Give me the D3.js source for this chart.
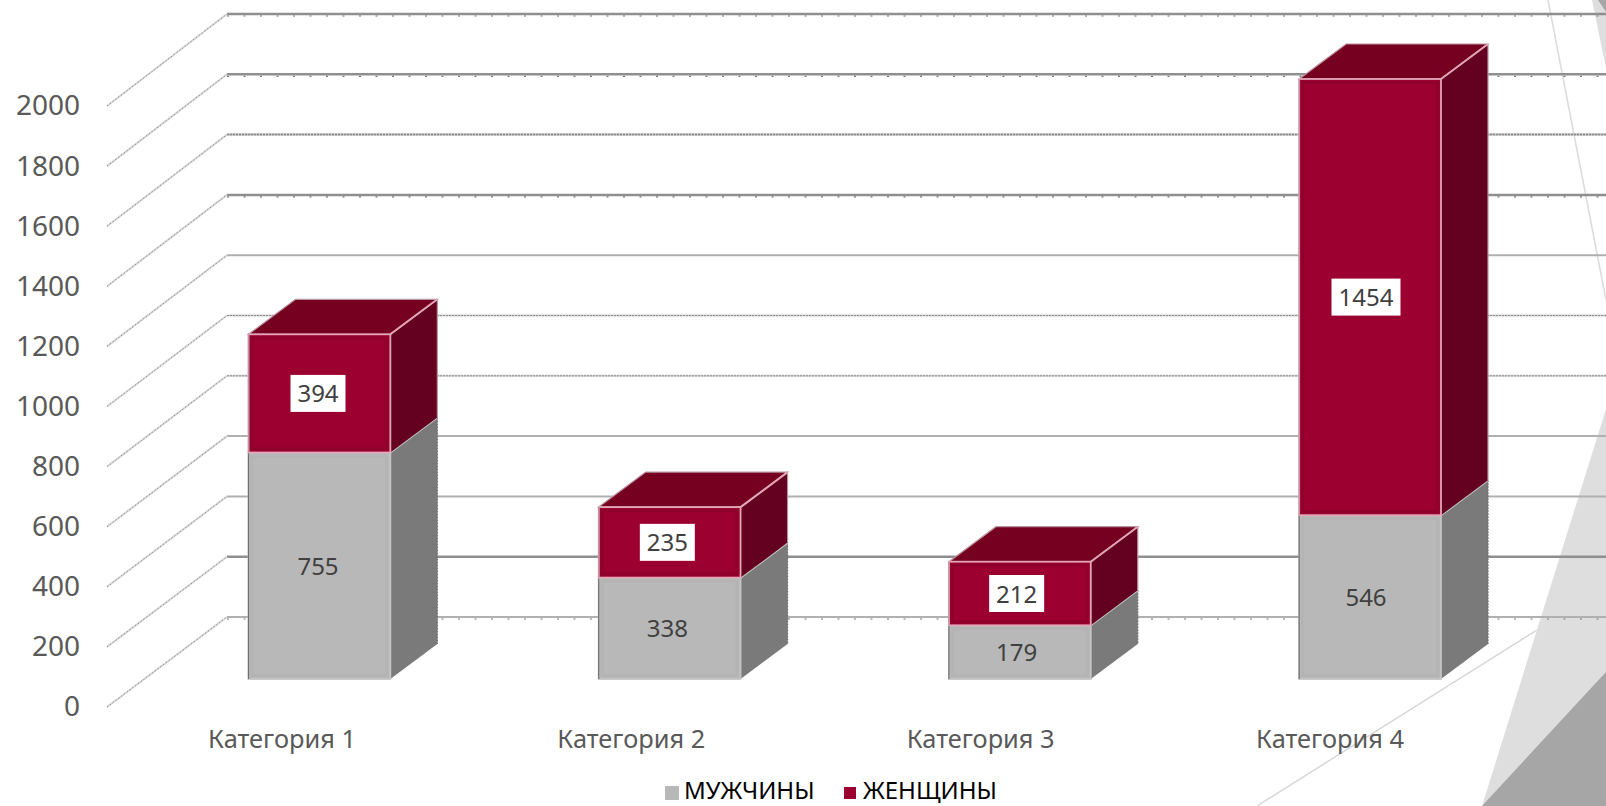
<!DOCTYPE html>
<html>
<head>
<meta charset="utf-8">
<script src="https://cdn.jsdelivr.net/npm/d3@7"></script>
<style>
html, body { margin: 0; padding: 0; background: #fff; }
svg { display: block; }
text { font-family: "Noto Sans", sans-serif; }
</style>
</head>
<body>
<div id="chart"></div>
<script>
"use strict"
var categories = ["Категория 1", "Категория 2", "Категория 3", "Категория 4"];
var men = [755, 338, 179, 546];
var women = [394, 235, 212, 1454];
var seriesNames = ["МУЖЧИНЫ", "ЖЕНЩИНЫ"];
var yTicks = [0, 200, 400, 600, 800, 1000, 1200, 1400, 1600, 1800, 2000];
// how each back wall gridline came out in the picture, bottom to top
var gridKinds = ["thinDots", "heavy", "thin", "thin", "dotted", "dotted", "thin", "heavyDots", "dense", "heavyDots", "heavyDots"];

var width = 1606;
var height = 806;
var depth = { x: 47, y: -35 };

var svg = d3.select("#chart").append("svg")
    .attr("width", width)
    .attr("height", height);

var xScale = d3.scaleBand().domain(categories).range([248.5, 1441]).paddingInner(0.595).paddingOuter(0);
var yScale = d3.scaleLinear().domain([0, 2000]).range([679, 79]);
var wallScale = d3.scaleLinear().domain([0, 2000]).range([617, 14]);
var floorScale = d3.scaleLinear().domain([0, 2000]).range([707, 106]);
var catScale = d3.scalePoint().domain(categories).range([282, 1330]);
var labelScale = d3.scalePoint().domain(categories).range([318, 1366]);

// slide decoration behind the chart
var deco = svg.append("g");
deco.append("polygon").attr("points", "1482,806 1606,409 1606,806").attr("fill", "#dedede");
deco.append("polygon").attr("points", "1482,806 1606,672 1606,806").attr("fill", "#a6a6a6");
deco.append("polygon").attr("points", "1592,0 1606,0 1606,68").attr("fill", "#dedede");
deco.append("polygon").attr("points", "1598,0 1606,0 1606,12").attr("fill", "#a6a6a6");
deco.append("line").attr("x1", 1548).attr("y1", 0).attr("x2", 1606).attr("y2", 300)
    .attr("stroke", "#dcdcdc").attr("stroke-width", 1.6);
deco.append("line").attr("x1", 1257).attr("y1", 806).attr("x2", 1537).attr("y2", 630)
    .attr("stroke", "#d6d6d6").attr("stroke-width", 1.4);

function gridLine(y, stroke, w, dash) {
    grid.append("line")
        .attr("x1", 227).attr("x2", width)
        .attr("y1", y).attr("y2", y)
        .attr("stroke", stroke)
        .attr("stroke-width", w)
        .attr("stroke-dasharray", dash);
}

// back wall gridlines
var grid = svg.append("g");
yTicks.forEach(function (t, i) {
    var kind = gridKinds[i];
    var y = wallScale(t);
    if (kind == "heavy" || kind == "heavyDots") {
        gridLine(y, "#8f8f8f", 2.5, null);
    } else if (kind == "dense") {
        gridLine(y, "#c4c4c4", 2.5, null);
        gridLine(y, "#8a8a8a", 1.5, "2 1");
    } else if (kind == "dotted") {
        gridLine(y, "#cfcfcf", 2, null);
        gridLine(y, "#8f8f8f", 1, "2 1");
    } else {
        gridLine(y, "#b0b0b0", 2, null);
    }
    if (kind == "heavyDots" || kind == "thinDots") {
        gridLine(y + 2, "#777", 1.2, "2 14.5");
    }
    // side wall line going from the axis to the wall
    grid.append("line")
        .attr("x1", 107).attr("y1", floorScale(t))
        .attr("x2", 227).attr("y2", y)
        .attr("stroke", "#d8d8d8")
        .attr("stroke-width", 2);
    grid.append("line")
        .attr("x1", 107).attr("y1", floorScale(t))
        .attr("x2", 227).attr("y2", y)
        .attr("stroke", "#909090")
        .attr("stroke-width", 1)
        .attr("stroke-dasharray", "1.5 2");
});

// y axis, only the labels show
var yAxis = d3.axisLeft(floorScale).tickValues(yTicks).tickSize(0).tickPadding(0).tickFormat(d3.format("d"));
var yG = svg.append("g").attr("transform", "translate(80,0)").call(yAxis);
yG.select(".domain").remove();
yG.selectAll("text").attr("fill", "#595959").style("font-size", "28px").style("font-family", '"Noto Sans", sans-serif');

var colors = [
    { front: "#b8b8b8", side: "#7a7a7a", top: "#8c8c8c", edge: "#c4c4c4", outer: "#6f6f6f", band: "#b4b4b4" },
    { front: "#9b0030", side: "#640020", top: "#750020", edge: "#e3a6b8", outer: "#b9939f", band: "#8f002c" }
];

function poly(points) {
    return points.map(function (p) { return p.join(","); }).join(" ");
}

// one stacked box: side and front, the top only for the last segment
function drawBox(g, x0, w, yLow, yHigh, c, withTop) {
    var x1 = x0 + w;
    g.append("polygon")
        .attr("points", poly([[x1, yHigh], [x1 + depth.x, yHigh + depth.y], [x1 + depth.x, yLow + depth.y], [x1, yLow]]))
        .attr("fill", c.side);
    g.append("line")
        .attr("x1", x1 + depth.x).attr("y1", yHigh + depth.y)
        .attr("x2", x1 + depth.x).attr("y2", yLow + depth.y)
        .attr("stroke", c.outer).attr("stroke-width", 1.2)
        .attr("stroke-dasharray", withTop ? null : "2 1");
    if (withTop) {
        g.append("polygon")
            .attr("points", poly([[x0, yHigh], [x0 + depth.x, yHigh + depth.y], [x1 + depth.x, yHigh + depth.y], [x1, yHigh]]))
            .attr("fill", c.top)
            .attr("stroke", c.outer)
            .attr("stroke-width", 1.2);
    }
    g.append("rect")
        .attr("x", x0).attr("y", yHigh)
        .attr("width", w).attr("height", yLow - yHigh)
        .attr("fill", c.front)
        .attr("stroke", c.edge)
        .attr("stroke-width", 1.8);
    // faint band inside the front face
    g.append("rect")
        .attr("x", x0 + 3.5).attr("y", yHigh + 3.5)
        .attr("width", w - 7).attr("height", yLow - yHigh - 7)
        .attr("fill", "none")
        .attr("stroke", c.band)
        .attr("stroke-width", 3);
    g.append("line")
        .attr("x1", x1).attr("y1", yHigh)
        .attr("x2", x1 + depth.x).attr("y2", yHigh + depth.y)
        .attr("stroke", c.edge).attr("stroke-width", 2);
    g.append("line")
        .attr("x1", x0).attr("y1", yHigh)
        .attr("x2", x0).attr("y2", yLow)
        .attr("stroke", c.outer).attr("stroke-width", 1.2);
}

var bars = svg.append("g");
categories.forEach(function (cat, i) {
    var x0 = xScale(cat);
    var w = xScale.bandwidth();
    var g = bars.append("g");
    var total = men[i] + women[i];
    drawBox(g, x0, w, yScale(0), yScale(men[i]), colors[0], false);
    drawBox(g, x0, w, yScale(men[i]), yScale(total), colors[1], true);
});

// labels
var labels = svg.append("g").attr("text-anchor", "middle");
categories.forEach(function (cat, i) {
    var total = men[i] + women[i];
    labels.append("text")
        .attr("x", labelScale(cat))
        .attr("y", (yScale(0) + yScale(men[i])) / 2 + 9)
        .attr("font-size", 24)
        .attr("fill", "#404040")
        .text(men[i]);

    var yMid = (yScale(men[i]) + yScale(total)) / 2;
    var boxW = String(women[i]).length > 3 ? 69 : 55;
    labels.append("rect")
        .attr("x", labelScale(cat) - boxW / 2)
        .attr("y", yMid - 18.5)
        .attr("width", boxW).attr("height", 37)
        .attr("fill", "#fff");
    labels.append("text")
        .attr("x", labelScale(cat))
        .attr("y", yMid + 9)
        .attr("font-size", 24)
        .attr("fill", "#404040")
        .text(women[i]);

    labels.append("text")
        .attr("x", catScale(cat))
        .attr("y", 748)
        .attr("font-size", 25.4)
        .attr("fill", "#595959")
        .text(cat);
});

// legend
var legendX = [665, 844];
var legendText = [684, 863];
seriesNames.forEach(function (name, i) {
    svg.append("rect")
        .attr("x", legendX[i]).attr("y", i == 0 ? 786 : 787)
        .attr("width", i == 0 ? 14 : 12).attr("height", i == 0 ? 14 : 12)
        .attr("fill", colors[i].front);
    svg.append("text")
        .attr("x", legendText[i]).attr("y", 799)
        .attr("font-size", 24)
        .attr("fill", "#000")
        .text(name);
});
</script>
</body>
</html>
